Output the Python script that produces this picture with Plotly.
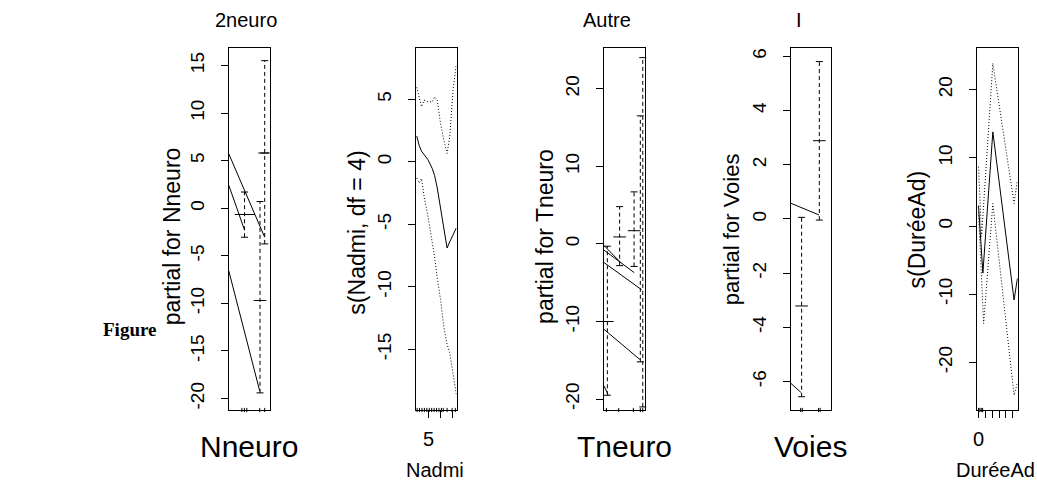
import plotly.graph_objects as go

W, H = 1037, 482


def px(x):
    return x / W


def py(y):
    return 1 - y / H


FONT = "Liberation Sans, Arial, sans-serif"
DASH = "4px,3px"
DOT = "1px,2px"

# ---------------- data ----------------
# Panel 1: partial for Nneuro (x = position across the panel, 0..1)
nneuro_seg_x0 = [0.0, 0.0, 0.0]
nneuro_seg_x1 = [0.878, 0.385, 0.756]
nneuro_seg_y0 = [5.7, 2.4, -6.6]
nneuro_seg_y1 = [-3.05, -2.3, -19.2]
nneuro_lvl_x0 = [0.146, 0.77]
nneuro_lvl_x1 = [0.64, 0.98]
nneuro_lvl_y = [-0.66, 5.8]
nneuro_se_x = [0.385, 0.763, 0.878]
nneuro_se_lo = [-3.05, -19.4, -3.75]
nneuro_se_mid = [-0.66, -9.7, 5.8]
nneuro_se_hi = [1.7, 0.7, 15.5]
nneuro_rug = [0.32, 0.38, 0.44, 0.756, 0.878]
nneuro_yticks = [15, 10, 5, 0, -5, -10, -15, -20]

# Panel 2: s(Nadmi, df = 4)
nadmi_x = [4.02, 4.22, 4.41, 4.63, 4.95, 5.30, 5.49, 5.71, 5.98, 6.25, 6.52, 6.74, 7.01, 7.28]
nadmi_fit = [2.05, 1.3, 0.85, 0.55, 0.15, -0.55, -1.1, -2.1, -3.6, -5.2, -6.9, -6.4, -5.85, -5.3]
nadmi_upper = [5.95, 5.0, 4.4, 4.92, 4.79, 4.79, 5.19, 4.92, 3.06, 1.73, 0.67, 2.0, 5.72, 7.8]
nadmi_lower = [-1.3, -1.7, -1.35, -2.8, -4.4, -6.3, -7.6, -9.3, -11.0, -13.2, -14.6, -15.3, -17.0, -18.6]
nadmi_rug = [4.05, 4.25, 4.45, 4.65, 4.85, 5.05, 5.25, 5.45, 5.65, 5.85, 6.05, 6.2, 6.52, 6.93, 7.2]
nadmi_xticks = [5, 6, 7]
nadmi_xticktext = ["5", "", ""]
nadmi_yticks = [5, 0, -5, -10, -15]

# Panel 3: partial for Tneuro (x = position across the panel, 0..1)
tneuro_seg_x0 = [0.0, 0.0, 0.0, 0.0, 0.0]
tneuro_seg_x1 = [0.39, 0.74, 0.92, 0.88, 0.1]
tneuro_seg_y0 = [-0.2, -0.8, -2.4, -11.0, -18.3]
tneuro_seg_y1 = [-2.3, -3.7, -5.9, -14.9, -19.4]
tneuro_se_x = [0.083, 0.383, 0.737, 0.89, 0.95]
tneuro_se_lo = [-19.5, -2.8, -2.9, -15.2, -21.0]
tneuro_se_mid = [-10.0, 0.9, 1.7, None, None]
tneuro_se_hi = [-0.3, 4.8, 6.7, 16.5, 24.0]
tneuro_rug = [0.06, 0.36, 0.72, 0.89, 0.95]
tneuro_yticks = [20, 10, 0, -10, -20]

# Panel 4: partial for Voies (x = position across the panel, 0..1)
voies_seg_x0 = [0.0, 0.0]
voies_seg_x1 = [0.69, 0.246]
voies_seg_y0 = [0.58, -6.07]
voies_seg_y1 = [0.15, -6.4]
voies_se_x = [0.263, 0.70]
voies_se_lo = [-6.56, -0.04]
voies_se_mid = [-3.21, 2.89]
voies_se_hi = [0.06, 5.81]
voies_rug = [0.24, 0.28, 0.68, 0.72]
voies_yticks = [6, 4, 2, 0, -2, -4, -6]

# Panel 5: s(DureeAd)
duree_fit_x = [0.0, 0.64, 2.09, 5.19, 5.67]
duree_fit = [3.0, -6.9, 13.8, -10.85, -7.7]
duree_up_x = [0.0, 0.45, 2.09, 5.19, 5.67]
duree_upper = [8.7, -1.5, 23.85, 3.3, 6.7]
duree_lo_x = [0.0, 0.75, 2.09, 5.19, 5.67]
duree_lower = [2.0, -14.3, 3.3, -24.8, -23.0]
duree_rug = [0.0, 0.2, 0.4, 0.6]
duree_xticks = [0, 1, 2, 3, 4, 5]
duree_xticktext = ["0", "", "", "", "", ""]
duree_yticks = [20, 10, 0, -10, -20]

# axis ranges (data units)
ranges = [
    ([0, 1], [-21.2, 16.8]),
    ([3.95, 7.30], [-19.85, 9.07]),
    ([0, 1], [-21.4, 25.2]),
    ([0, 1], [-7.05, 6.3]),
    ([-0.23, 5.73], [-26.98, 26.06]),
]

# ---------------- layout geometry (pixels) ----------------
box_x = [(225.7, 266.7), (413.5, 454.3), (602.3, 643.3), (790.0, 830.7), (976.7, 1017.7)]
box_top, box_bot = 48.3, 410.0

fig = go.Figure()


def ax_names(i):
    return ("x" if i == 1 else f"x{i}"), ("y" if i == 1 else f"y{i}")


def add_segments(i, x0, y0, x1, y1, dash="solid"):
    xs, ys = [], []
    for a, b, c, d in zip(x0, y0, x1, y1):
        xs += [a, c, None]
        ys += [b, d, None]
    xa, ya = ax_names(i)
    fig.add_trace(go.Scatter(x=xs, y=ys, mode="lines", xaxis=xa, yaxis=ya,
                             line=dict(color="black", width=1, dash=dash),
                             hoverinfo="skip", showlegend=False))


def add_hlevels(i, x0, x1, yv):
    add_segments(i, x0, yv, x1, yv)


def add_se(i, xs, lo, mid, hi):
    xa, ya = ax_names(i)
    vx, vy = [], []
    for x, a, b in zip(xs, lo, hi):
        vx += [x, x, None]
        vy += [a, b, None]
    fig.add_trace(go.Scatter(x=vx, y=vy, mode="lines", xaxis=xa, yaxis=ya,
                             line=dict(color="black", width=1, dash=DASH),
                             hoverinfo="skip", showlegend=False))
    fig.add_trace(go.Scatter(x=list(xs) + list(xs), y=list(lo) + list(hi), mode="markers",
                             xaxis=xa, yaxis=ya, cliponaxis=False,
                             marker=dict(symbol="line-ew", size=5, color="black",
                                         line=dict(width=1, color="black")),
                             hoverinfo="skip", showlegend=False))
    mx = [x for x, m in zip(xs, mid) if m is not None]
    my = [m for m in mid if m is not None]
    fig.add_trace(go.Scatter(x=mx, y=my, mode="markers", xaxis=xa, yaxis=ya,
                             marker=dict(symbol="line-ew", size=9, color="black",
                                         line=dict(width=1, color="black")),
                             hoverinfo="skip", showlegend=False))


def add_line(i, xs, ys, dash="solid"):
    xa, ya = ax_names(i)
    fig.add_trace(go.Scatter(x=xs, y=ys, mode="lines", xaxis=xa, yaxis=ya,
                             line=dict(color="black", width=1, dash=dash),
                             hoverinfo="skip", showlegend=False))


def add_rug(i, xs):
    xa, ya = ax_names(i)
    ymin = ranges[i - 1][1][0]
    fig.add_trace(go.Scatter(x=xs, y=[ymin] * len(xs), mode="markers", xaxis=xa, yaxis=ya,
                             cliponaxis=False,
                             marker=dict(symbol="line-ns", size=3, color="black",
                                         line=dict(width=1, color="black")),
                             hoverinfo="skip", showlegend=False))


# Panel 1
add_segments(1, nneuro_seg_x0, nneuro_seg_y0, nneuro_seg_x1, nneuro_seg_y1)
add_hlevels(1, nneuro_lvl_x0, nneuro_lvl_x1, nneuro_lvl_y)
add_se(1, nneuro_se_x, nneuro_se_lo, nneuro_se_mid, nneuro_se_hi)
add_rug(1, nneuro_rug)

# Panel 2
add_line(2, nadmi_x, nadmi_fit)
add_line(2, nadmi_x, nadmi_upper, DOT)
add_line(2, nadmi_x, nadmi_lower, DOT)
add_rug(2, nadmi_rug)

# Panel 3
add_segments(3, tneuro_seg_x0, tneuro_seg_y0, tneuro_seg_x1, tneuro_seg_y1)
add_se(3, tneuro_se_x, tneuro_se_lo, tneuro_se_mid, tneuro_se_hi)
add_rug(3, tneuro_rug)

# Panel 4
add_segments(4, voies_seg_x0, voies_seg_y0, voies_seg_x1, voies_seg_y1)
add_se(4, voies_se_x, voies_se_lo, voies_se_mid, voies_se_hi)
add_rug(4, voies_rug)

# Panel 5
add_line(5, duree_fit_x, duree_fit)
add_line(5, duree_up_x, duree_upper, DOT)
add_line(5, duree_lo_x, duree_lower, DOT)
add_rug(5, duree_rug)

yticks_all = [nneuro_yticks, nadmi_yticks, tneuro_yticks, voies_yticks, duree_yticks]
xticks_all = [None, (nadmi_xticks, nadmi_xticktext), None, None, (duree_xticks, duree_xticktext)]

layout = dict(width=W, height=H, margin=dict(l=0, r=0, t=0, b=0),
              paper_bgcolor="white", plot_bgcolor="white", showlegend=False,
              font=dict(family=FONT, color="black"))

for i in range(1, 6):
    xr, yr = ranges[i - 1]
    x0, x1 = box_x[i - 1]
    xkey = "xaxis" if i == 1 else f"xaxis{i}"
    ykey = "yaxis" if i == 1 else f"yaxis{i}"
    xa = dict(domain=[px(x0), px(x1)], range=xr, anchor=("y" if i == 1 else f"y{i}"),
              showline=True, mirror=True, linecolor="black", linewidth=1,
              showgrid=False, zeroline=False, fixedrange=True)
    xt = xticks_all[i - 1]
    if xt is None:
        xa.update(ticks="", showticklabels=False)
    else:
        xa.update(tickmode="array", tickvals=xt[0], ticktext=xt[1], ticks="outside",
                  ticklen=7, tickwidth=1, tickcolor="black",
                  tickfont=dict(size=20, family=FONT, color="black"),
                  ticklabelstandoff=4)
    yt = yticks_all[i - 1]
    ya = dict(domain=[py(box_bot), py(box_top)], range=yr, anchor=("x" if i == 1 else f"x{i}"),
              showline=True, mirror=True, linecolor="black", linewidth=1,
              showgrid=False, zeroline=False, fixedrange=True,
              tickmode="array", tickvals=yt, ticktext=[str(v) for v in yt],
              ticks="outside", ticklen=7, tickwidth=1, tickcolor="black",
              tickangle=-90, tickfont=dict(size=19, family=FONT, color="black"),
              ticklabelstandoff=9)
    layout[xkey] = xa
    layout[ykey] = ya

annotations = []


def ann(text, x, y, size, angle=0, family=FONT, bold=False):
    t = f"<b>{text}</b>" if bold else text
    annotations.append(dict(text=t, x=px(x), y=py(y), xref="paper", yref="paper",
                            xanchor="center", yanchor="middle", showarrow=False,
                            textangle=angle, font=dict(size=size, family=family, color="black")))


# titles
ann("2neuro", 242.5, 20, 20)
ann("Autre", 605.5, 20, 20)
ann("I", 798.3, 20, 20)
# x labels
ann("Nneuro", 246.2, 446, 30)
ann("Nadmi", 433, 470, 20)
ann("Tneuro", 623, 446, 30)
ann("Voies", 810, 446, 30)
ann("DuréeAd", 995, 470, 20)
# y titles
ann("partial for Nneuro", 169, 236, 23, -90)
ann("s(Nadmi, df = 4)", 354, 233, 23, -90)
ann("partial for Tneuro", 543, 236, 23, -90)
ann("partial for Voies", 730, 229, 22, -90)
ann("s(DuréeAd)", 917, 229, 23, -90)
# left label
ann("Figure", 126, 329, 19, 0, "Liberation Serif, Times New Roman, serif", True)

layout["annotations"] = annotations
fig.update_layout(**layout)
fig.write_html("out.html")
